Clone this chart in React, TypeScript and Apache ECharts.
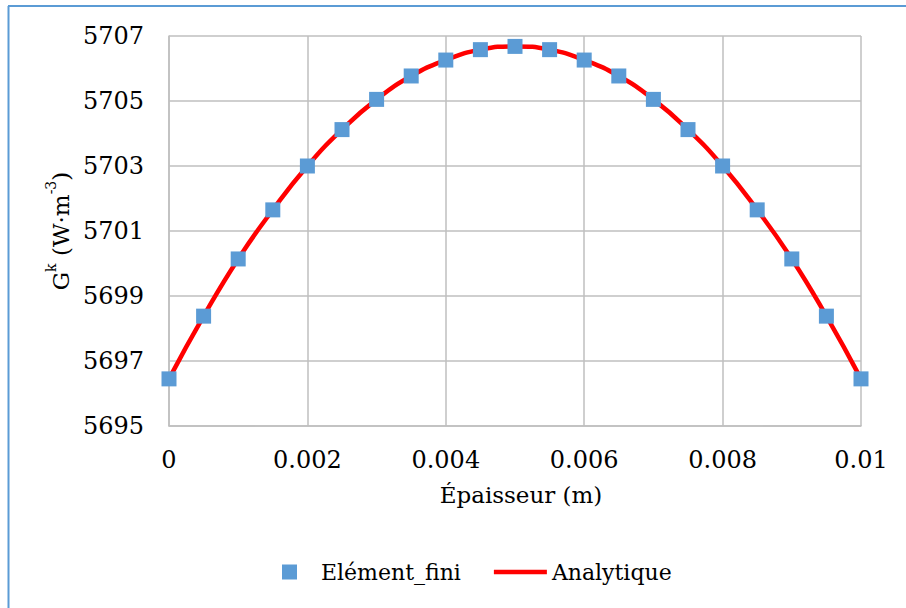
import React, { useEffect, useRef } from "react";
import * as echarts from "echarts";

const xValues = [0, 0.0005, 0.001, 0.0015, 0.002, 0.0025, 0.003, 0.0035, 0.004, 0.0045, 0.005, 0.0055, 0.006, 0.0065, 0.007, 0.0075, 0.008, 0.0085, 0.009, 0.0095, 0.01];
const elementFini = [5696.45, 5698.38, 5700.14, 5701.65, 5703.0, 5704.12, 5705.05, 5705.77, 5706.26, 5706.58, 5706.68, 5706.58, 5706.26, 5705.77, 5705.05, 5704.12, 5703.0, 5701.65, 5700.14, 5698.38, 5696.45];
const analytique = [5696.45, 5698.38, 5700.14, 5701.65, 5703.0, 5704.12, 5705.05, 5705.77, 5706.26, 5706.58, 5706.68, 5706.58, 5706.26, 5705.77, 5705.05, 5704.12, 5703.0, 5701.65, 5700.14, 5698.38, 5696.45];

const FONT = "DejaVu Serif";

export default function App() {
  const ref = useRef<HTMLDivElement>(null);
  useEffect(() => {
    if (!ref.current) return;
    const chart = echarts.init(ref.current, null, { renderer: "svg" });
    chart.setOption({
      animation: false,
      backgroundColor: "#ffffff",
      textStyle: { fontFamily: FONT },
      graphic: [
        { type: "line", shape: { x1: 8, y1: 6, x2: 906, y2: 6 }, style: { stroke: "#5B9BD5", lineWidth: 2 } },
        { type: "line", shape: { x1: 8.5, y1: 6, x2: 8.5, y2: 608 }, style: { stroke: "#5B9BD5", lineWidth: 2 } },
      ],
      grid: { left: 169, top: 36, width: 692, height: 390, containLabel: false },
      legend: {
        top: 556,
        left: 277,
        itemWidth: 53,
        itemHeight: 15,
        itemGap: 33,
        textStyle: { fontFamily: FONT, fontSize: 22, color: "#000" },
        data: [
          { name: "Elément_fini", icon: "path://M0,0h10v10h-10z" },
          { name: "Analytique", icon: "path://M0,0h106v9h-106z" },
        ],
      },
      xAxis: {
        type: "value",
        min: 0,
        max: 0.01,
        interval: 0.002,
        name: "Épaisseur (m)",
        nameLocation: "middle",
        nameGap: 57,
        nameTextStyle: { fontFamily: FONT, fontSize: 23, color: "#000", padding: [0, 0, 0, 12] },
        axisLine: { show: true, lineStyle: { color: "#BFBFBF", width: 1.5 } },
        axisTick: { show: false },
        axisLabel: {
          fontFamily: FONT,
          fontSize: 24,
          color: "#000",
          margin: 22,
          formatter: (v: number) => String(parseFloat(v.toFixed(4))),
        },
        splitLine: { show: true, lineStyle: { color: "#BFBFBF", width: 1.5 } },
      },
      yAxis: {
        type: "value",
        min: 5695,
        max: 5707,
        interval: 2,
        name: "{n|G}{s|k}{n| (W·m}{s|-3}{n|)}",
        nameLocation: "middle",
        nameRotate: 90,
        nameGap: 90,
        nameTextStyle: {
          fontFamily: FONT,
          fontSize: 23,
          color: "#000",
          rich: {
            n: { fontFamily: FONT, fontSize: 23, color: "#000", lineHeight: 28, verticalAlign: "bottom" },
            s: { fontFamily: FONT, fontSize: 14, color: "#000", lineHeight: 28, verticalAlign: "top", padding: [0, 0, 10, 0] },
          },
        },
        axisLine: { show: true, lineStyle: { color: "#BFBFBF", width: 1.5 } },
        axisTick: { show: false },
        axisLabel: {
          fontFamily: FONT,
          fontSize: 24,
          color: "#000",
          margin: 25,
          formatter: (v: number) => String(v),
        },
        splitLine: { show: true, lineStyle: { color: "#BFBFBF", width: 1.5 } },
      },
      series: [
        {
          name: "Analytique",
          type: "line",
          data: xValues.map((x, i) => [x, analytique[i]]),
          smooth: true,
          symbol: "none",
          lineStyle: { color: "#FF0000", width: 4.5 },
          itemStyle: { color: "#FF0000" },
          z: 2,
        },
        {
          name: "Elément_fini",
          type: "scatter",
          data: xValues.map((x, i) => [x, elementFini[i]]),
          symbol: "rect",
          symbolSize: 15,
          itemStyle: { color: "#5B9BD5", opacity: 1 },
          z: 3,
        },
      ],
    });
    return () => chart.dispose();
  }, []);
  return <div ref={ref} style={{ position: "fixed", left: 0, top: 0, width: 906, height: 608 }} />;
}
